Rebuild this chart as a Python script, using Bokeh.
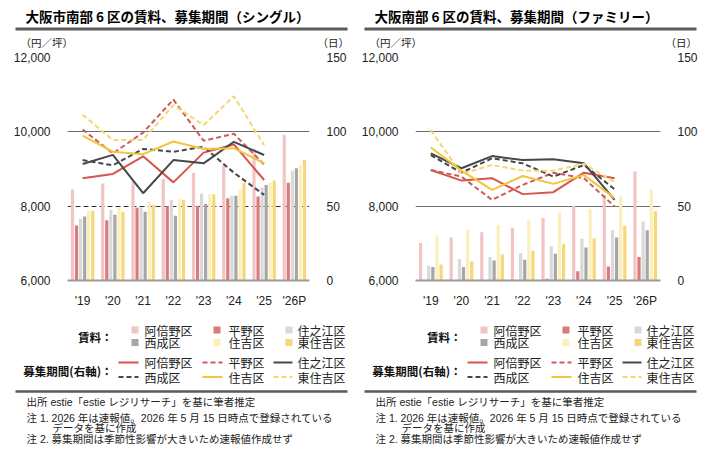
import numpy as np
from bokeh.plotting import figure
from bokeh.models import (Range1d, LinearAxis, FixedTicker, Grid, FactorRange,
                          ColumnDataSource, NumeralTickFormatter)
from bokeh.layouts import row, column
from bokeh.transform import dodge
from bokeh.core.properties import value
from bokeh.embed import file_html
from bokeh.resources import INLINE

# ---------------- data ----------------
years = ["'19", "'20", "'21", "'22", "'23", "'24", "'25", "'26P"]
line_years = years[:7]
wards = ["阿倍野区", "平野区", "住之江区", "西成区", "住吉区", "東住吉区"]

# Single: rent (yen / tsubo)
single_abeno = [8450, 8610, 8660, 8730, 8890, 9100, 9550, 9920]
single_hirano = [7480, 7620, 7960, 8000, 8010, 8210, 8260, 8630]
single_suminoe = [7660, 7900, 7970, 8170, 8340, 8280, 8500, 8950]
single_nishinari = [7720, 7770, 7850, 7740, 8060, 8280, 8570, 9020]
single_sumiyoshi = [7880, 7970, 8120, 8200, 8320, 8460, 8640, 9110]
single_higashisumiyoshi = [7880, 7850, 8040, 8170, 8320, 8620, 8690, 9240]

# Single: listing period (days)
single_days_abeno = [68.8, 71.7, 83.5, 66.0, 86.0, 91.5, 67.6]
single_days_hirano = [101.6, 85.5, 99.5, 121.7, 94.0, 98.7, 78.0]
single_days_suminoe = [78.4, 84.5, 58.7, 81.0, 78.8, 93.3, 84.4]
single_days_nishinari = [81.0, 77.5, 88.5, 86.6, 89.9, 72.5, 57.6]
single_days_sumiyoshi = [97.5, 86.6, 85.0, 93.5, 88.5, 89.0, 79.0]
single_days_higashisumiyoshi = [111.5, 94.4, 94.6, 118.0, 104.5, 124.0, 91.0]

# Family: rent (yen / tsubo)
family_abeno = [7010, 7160, 7300, 7420, 7680, 8010, 8300, 8930]
family_hirano = [np.nan, np.nan, np.nan, np.nan, 6050, 6250, 6380, 6630]
family_suminoe = [6400, 6580, 6630, 6740, 6920, 7120, 7350, 7590]
family_nishinari = [6360, 6360, 6540, 6560, 6720, 6890, 7160, 7350]
family_sumiyoshi = [7210, 7370, 7500, 7620, 7830, 7920, 8260, 8440]
family_higashisumiyoshi = [6430, 6520, 6700, 6800, 6990, 7140, 7470, 7860]

# Family: listing period (days)
family_days_abeno = [74.3, 67.2, 68.8, 58.1, 59.4, 72.5, 68.8]
family_days_hirano = [74.3, 69.9, 54.2, 64.3, 72.5, 68.8, 49.8]
family_days_suminoe = [85.5, 75.5, 83.7, 81.0, 81.5, 78.8, 54.2]
family_days_nishinari = [84.4, 72.5, 82.2, 78.8, 69.9, 77.7, 61.4]
family_days_sumiyoshi = [89.5, 73.9, 60.9, 70.3, 65.0, 71.0, 55.4]
family_days_higashisumiyoshi = [101.1, 71.7, 77.7, 73.9, 73.9, 78.4, 66.5]

rent_ticks = [6000, 8000, 10000, 12000]
day_ticks = [0, 50, 100, 150]

titles = ["大阪市南部 6 区の賃料、募集期間（シングル）",
          "大阪南部 6 区の賃料、募集期間（ファミリー）"]
notes = ["出所 estie「estie レジリサーチ」を基に筆者推定",
         "注 1. 2026 年は速報値。2026 年 5 月 15 日時点で登録されている",
         "データを基に作成",
         "注 2. 募集期間は季節性影響が大きいため速報値作成せず"]

# ---------------- styles ----------------
JP = "Noto Sans CJK JP"
LAT = "Liberation Sans"
MIX = "Liberation Sans, Noto Sans CJK JP"
bar_colors = ["#f2c4c4", "#d97b7b", "#d9d9d9", "#a6a6a6", "#fbefbb", "#f6d87a"]
line_colors = ["#d9534f", "#cc5b5a", "#474747", "#474747", "#f2c53d", "#f5d76e"]
line_dashes = ["solid", "5 3", "solid", "5 3", "solid", "5 3"]
bar_offsets = [-0.335, -0.201, -0.067, 0.067, 0.201, 0.335]
TXT = "#222222"
PANEL_X = [0, 349]
W_TOTAL = 715


def blank(width, height, x0, x1, y0, y1):
    f = figure(width=width, height=height, x_range=Range1d(x0, x1),
               y_range=Range1d(y0, y1), output_backend="svg",
               toolbar_location=None, min_border=0,
               x_axis_location=None, y_axis_location=None)
    f.grid.visible = False
    f.outline_line_color = None
    return f


def make_chart(rents, days, dashed8000, W, lb):
    rb = W - lb - 245
    p = figure(width=W, height=260, x_range=FactorRange(*years),
               y_range=Range1d(6000, 12000), output_backend="svg",
               toolbar_location=None, min_border_left=lb, min_border_right=rb,
               min_border_top=7, min_border_bottom=29)
    p.outline_line_color = None
    p.extra_y_ranges = {"days": Range1d(0, 150)}

    src = {"year": years}
    for k in range(6):
        src["r%d" % k] = np.array(rents[k], dtype=float)
    src = ColumnDataSource(src)
    for k in range(6):
        p.vbar(x=dodge("year", bar_offsets[k], range=p.x_range), top="r%d" % k,
               bottom=6000, width=0.105, source=src, fill_color=bar_colors[k],
               line_color=None)

    lsrc = {"year": line_years}
    for k in range(6):
        lsrc["d%d" % k] = days[k]
    lsrc = ColumnDataSource(lsrc)
    for k in [0, 1, 3, 2, 5, 4]:
        p.line(x="year", y="d%d" % k, source=lsrc, y_range_name="days",
               line_color=line_colors[k], line_width=2, line_dash=line_dashes[k])

    p.xgrid.visible = False
    solid = [10000, 12000] if dashed8000 else [8000, 10000, 12000]
    p.ygrid.ticker = FixedTicker(ticks=solid)
    p.ygrid.grid_line_color = "#6e6e6e"
    p.ygrid.grid_line_width = 1
    if dashed8000:
        g = Grid(dimension=1, ticker=FixedTicker(ticks=[8000]),
                 grid_line_color="#333333", grid_line_dash="5 3",
                 grid_line_width=1)
        p.add_layout(g)

    ya = p.yaxis[0]
    ya.ticker = FixedTicker(ticks=rent_ticks)
    ya.formatter = NumeralTickFormatter(format="0,0")
    ra = LinearAxis(y_range_name="days", ticker=FixedTicker(ticks=day_ticks))
    p.add_layout(ra, "right")
    for ax in [ya, ra]:
        ax.axis_line_color = None
        ax.major_tick_line_color = None
        ax.minor_tick_line_color = None
        ax.major_label_standoff = 11
        ax.major_label_text_font = LAT
        ax.major_label_text_font_size = "12px"
        ax.major_label_text_color = TXT
    xa = p.xaxis[0]
    xa.axis_line_color = "#9a9a9a"
    xa.axis_line_width = 2
    xa.major_tick_line_color = None
    xa.minor_tick_line_color = None
    xa.major_label_standoff = 7
    xa.major_label_text_font = LAT
    xa.major_label_text_font_size = "12px"
    xa.major_label_text_color = TXT
    return p


# header (page pixel coordinates)
head = blank(W_TOTAL, 50, 0, W_TOTAL, 50, 0)
# footer: legend + notes (page pixel coordinates)
foot = blank(W_TOTAL, 143, 0, W_TOTAL, 453, 310)

for i, ox in enumerate(PANEL_X):
    lb = 67 if i == 0 else 66
    head.text(x=[ox + 25], y=[15], text=[titles[i]], text_font=value(JP),
              text_font_style="bold", text_font_size="13.5px",
              text_baseline="middle", text_color="#000000")
    head.segment(x0=[ox + 15], y0=[28.5], x1=[ox + 347], y1=[28.5],
                 line_width=3, line_color="#5a5a5a")
    head.text(x=[ox + 20], y=[41.5], text=["（円／坪）"], text_font=value(JP),
              text_font_size="10.5px", text_baseline="middle", text_color=TXT)
    head.text(x=[ox + lb + 250], y=[41.5], text=["（日）"], text_font=value(JP),
              text_font_size="10.5px", text_baseline="middle", text_color=TXT)

    foot.text(x=[ox + 112], y=[336], text=["賃料："], text_font=value(JP),
              text_font_style="bold", text_font_size="11.5px",
              text_align="right", text_baseline="middle", text_color="#111111")
    foot.text(x=[ox + 112], y=[370], text=["募集期間(右軸)："], text_font=value(JP),
              text_font_style="bold", text_font_size="11.5px",
              text_align="right", text_baseline="middle", text_color="#111111")
    sw_x = [131, 213, 285]
    tx_x = [144, 228, 297]
    ln_x0 = [118, 202, 273]
    ln_x1 = [138, 222, 292]
    bar_rows = [329.5, 342]
    line_rows = [362, 376.5]
    for k in range(6):
        c, r = k % 3, k // 3
        foot.rect(x=[ox + sw_x[c] + 3.5], y=[bar_rows[r]], width=7, height=7,
                  fill_color=bar_colors[k], line_color=None)
        foot.text(x=[ox + tx_x[c]], y=[bar_rows[r]], text=[wards[k]],
                  text_font=value(JP), text_font_size="12px",
                  text_baseline="middle", text_color=TXT)
        foot.segment(x0=[ox + ln_x0[c]], y0=[line_rows[r]], x1=[ox + ln_x1[c]],
                     y1=[line_rows[r]], line_color=line_colors[k], line_width=2,
                     line_dash=line_dashes[k])
        foot.text(x=[ox + tx_x[c]], y=[line_rows[r]], text=[wards[k]],
                  text_font=value(JP), text_font_size="12px",
                  text_baseline="middle", text_color=TXT)
    foot.segment(x0=[ox + 15], y0=[391], x1=[ox + 347], y1=[391],
                 line_width=2.5, line_color="#5a5a5a")
    foot.text(x=[ox + 26, ox + 26, ox + 52, ox + 26],
              y=[401, 417.5, 427.5, 438.5], text=notes,
              text_font=value(MIX), text_font_size="10.5px",
              text_baseline="middle", text_color=TXT)

left = make_chart([single_abeno, single_hirano, single_suminoe, single_nishinari,
                   single_sumiyoshi, single_higashisumiyoshi],
                  [single_days_abeno, single_days_hirano, single_days_suminoe,
                   single_days_nishinari, single_days_sumiyoshi,
                   single_days_higashisumiyoshi],
                  True, 349, 67)
right = make_chart([family_abeno, family_hirano, family_suminoe, family_nishinari,
                    family_sumiyoshi, family_higashisumiyoshi],
                   [family_days_abeno, family_days_hirano, family_days_suminoe,
                    family_days_nishinari, family_days_sumiyoshi,
                    family_days_higashisumiyoshi],
                   False, 366, 66)

layout = column(head, row(left, right, spacing=0), foot, spacing=0)
open("out.html", "w").write(file_html(layout, INLINE))
